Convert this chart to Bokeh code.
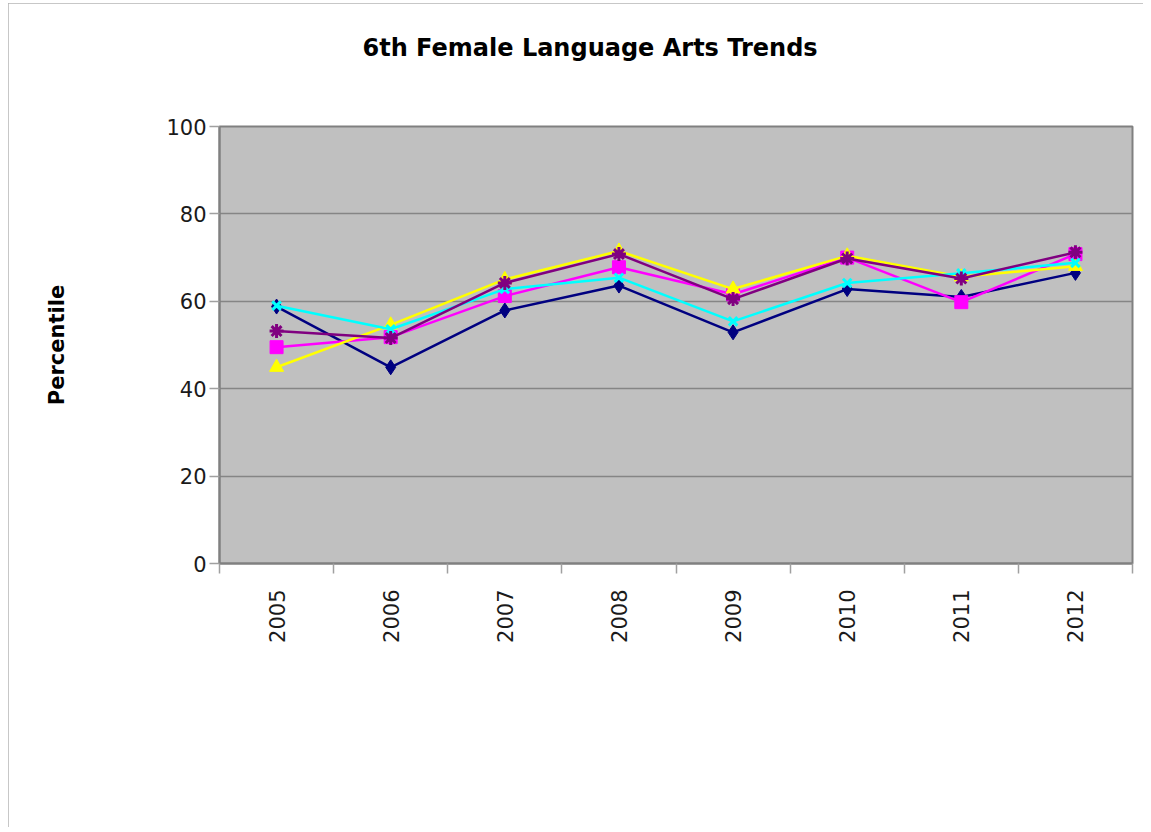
import math
from bokeh.plotting import figure
from bokeh.models import FixedTicker, Range1d, Title
from bokeh.embed import file_html
from bokeh.resources import INLINE

title_text = "6th Female Language Arts Trends"
y_label = "Percentile"
years = ["2005", "2006", "2007", "2008", "2009", "2010", "2011", "2012"]
y_ticks = [0, 20, 40, 60, 80, 100]

navy_vals = [58.8, 44.9, 57.9, 63.6, 52.9, 62.8, 61.0, 66.5]
magenta_vals = [49.5, 51.8, 61.2, 67.8, 61.6, 70.0, 59.8, 70.8]
yellow_vals = [44.9, 54.6, 65.0, 71.5, 62.8, 70.4, 65.6, 68.0]
cyan_vals = [59.0, 53.6, 62.8, 65.4, 55.4, 64.2, 66.4, 68.8]
purple_vals = [53.2, 51.6, 64.2, 70.8, 60.5, 69.8, 65.2, 71.2]

series = [
    (navy_vals, "#000080", "diamond", 15),
    (magenta_vals, "#FF00FF", "square", 13),
    (yellow_vals, "#FFFF00", "triangle", 14),
    (cyan_vals, "#00FFFF", "x", 12),
    (purple_vals, "#800080", "asterisk", 14),
]

x = list(range(len(years)))

p = figure(
    frame_width=913, frame_height=437,
    min_border_left=211, min_border_right=11,
    min_border_top=0, min_border_bottom=264,
    x_range=Range1d(-0.5, len(years) - 0.5),
    y_range=Range1d(0, 100),
    output_backend="svg", toolbar_location=None,
    background_fill_color="#C0C0C0",
    border_fill_color="white",
)
p.styles = {"margin-left": "8px", "margin-top": "3px",
            "outline": "2px solid #b4b4b4", "outline-offset": "-2px"}

p.title.text = title_text
p.title.text_font = "DejaVu Sans"
p.title.text_font_size = "24px"
p.title.text_font_style = "bold"
p.title.text_color = "black"
p.title.align = "left"
p.title.offset = 143
p.title.standoff = 57

# empty spacer between the title and the plot area
p.add_layout(Title(text=" ", text_font_size="10px", standoff=23), "above")

p.outline_line_color = "#808080"
p.outline_line_width = 2

p.xgrid.visible = False
p.ygrid.grid_line_color = "#858585"
p.ygrid.grid_line_width = 1.5

# y axis
p.yaxis.ticker = FixedTicker(ticks=y_ticks)
p.yaxis.axis_label = y_label
p.yaxis.axis_label_text_font = "DejaVu Sans"
p.yaxis.axis_label_text_font_size = "21px"
p.yaxis.axis_label_text_font_style = "bold"
p.yaxis.axis_label_text_color = "black"
p.yaxis.axis_label_standoff = 94
p.yaxis.major_label_text_font = "DejaVu Sans"
p.yaxis.major_label_text_font_size = "21px"
p.yaxis.major_label_text_color = "#1a1a1a"
p.yaxis.major_tick_out = 10
p.yaxis.major_tick_in = 0
p.yaxis.major_tick_line_color = "#a0a0a0"
p.yaxis.major_tick_line_width = 1.5
p.yaxis.minor_tick_line_color = None
p.yaxis.axis_line_color = "#808080"
p.yaxis.axis_line_width = 2
p.yaxis.major_label_standoff = 3

# x axis: labels at centers, ticks at category boundaries
bounds = [i - 0.5 for i in range(len(years) + 1)]
p.xaxis.ticker = FixedTicker(ticks=x, minor_ticks=bounds)
p.xaxis.major_label_overrides = {i: yr for i, yr in zip(x, years)}
p.xaxis.major_label_orientation = math.pi / 2
p.xaxis.major_label_text_font = "DejaVu Sans"
p.xaxis.major_label_text_font_size = "21px"
p.xaxis.major_label_text_color = "#1a1a1a"
p.xaxis.major_tick_line_color = None
p.xaxis.major_tick_out = 0
p.xaxis.major_tick_in = 0
p.xaxis.minor_tick_out = 10
p.xaxis.minor_tick_in = 0
p.xaxis.minor_tick_line_color = "#a0a0a0"
p.xaxis.minor_tick_line_width = 1.5
p.xaxis.major_label_standoff = 16
p.xaxis.axis_line_color = "#808080"
p.xaxis.axis_line_width = 2

for vals, color, marker, size in series:
    p.line(x, vals, line_color=color, line_width=2.5)
    if marker in ("x", "asterisk"):
        p.scatter(x, vals, marker=marker, size=size, line_color=color, line_width=3)
    else:
        p.scatter(x, vals, marker=marker, size=size, fill_color=color, line_color=color)

open("out.html", "w").write(file_html(p, INLINE))
